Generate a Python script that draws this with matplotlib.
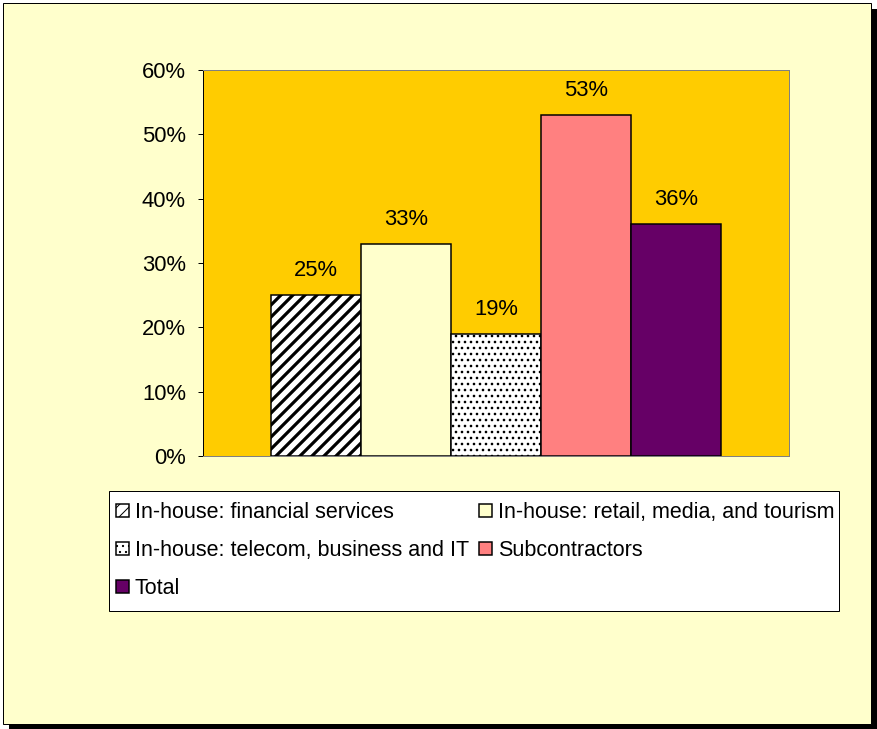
"""
Quota percentuale per gruppo (in-house per settore, subcontractors, totale).
Grafico a barre singola categoria con legenda a due colonne -> out.png
"""

import numpy as np
import matplotlib
matplotlib.use("Agg")
import matplotlib.pyplot as plt
from matplotlib.patches import Rectangle

# ─── Dati ─────────────────────────────────────────────────────────────────────
SERIES = [
    "In-house: financial services",
    "In-house: retail, media, and tourism",
    "In-house: telecom, business and IT",
    "Subcontractors",
    "Total",
]
VALUES = [25, 33, 19, 53, 36]
Y_TICKS = [0, 10, 20, 30, 40, 50, 60]

# ─── Stile ────────────────────────────────────────────────────────────────────
FACE     = ["white", "#FFFFCC", "white", "#FF8080", "#660066"]
HATCH    = ["//", None, "..", None, None]
HATCH_LW = [3.2, 1.0, 1.4, 1.0, 1.0]
FS       = 22
FS_LEG   = 21.5

W, H, DPI = 877, 729, 72
plt.rcParams["font.family"] = ["Liberation Sans", "DejaVu Sans"]


def px(x0, y0, x1, y1):
    """Box in pixel (origine in alto a sinistra) -> [l, b, w, h] in frazioni."""
    return [x0 / W, 1 - y1 / H, (x1 - x0) / W, (y1 - y0) / H]


def fig_rect(fig, box, **kw):
    l, b, w, h = box
    fig.add_artist(Rectangle((l, b), w, h, transform=fig.transFigure, **kw))


fig = plt.figure(figsize=(W / DPI, H / DPI), dpi=DPI, facecolor="white")

# cornice dell'area grafico con ombra
fig_rect(fig, px(9, 9, 877, 729), facecolor="black", edgecolor="none", zorder=-20)
fig_rect(fig, px(3, 3, 871, 724), facecolor="#FFFFCC", edgecolor="black",
         linewidth=1, zorder=-19)

ax = fig.add_axes(px(203, 70, 789, 456), facecolor="#FFCC00")

x = np.arange(len(VALUES))
handles = []
for i, (lab, v) in enumerate(zip(SERIES, VALUES)):
    plt.rcParams["hatch.linewidth"] = HATCH_LW[i]
    b = ax.bar(x[i], v, width=1.0, color=FACE[i], edgecolor="black",
               linewidth=1.5, hatch=HATCH[i], label=lab, zorder=3)
    for p in b:
        if hasattr(p, "set_hatch_linewidth"):
            p.set_hatch_linewidth(HATCH_LW[i])
    handles.append(b[0])
    ax.annotate(f"{v}%", (x[i], v), xytext=(0, 19), textcoords="offset points",
                ha="center", va="baseline", fontsize=FS)

ax.set_xlim(-1.256, len(VALUES) - 1 + 1.256)
ax.set_ylim(0, 60)
ax.set_yticks(Y_TICKS)
ax.set_yticklabels([f"{t}%" for t in Y_TICKS])
ax.set_xticks([])
ax.tick_params(axis="y", length=5, width=1, pad=12, labelsize=FS,
               direction="out", color="black")
for s in ax.spines.values():
    s.set_color("#808080")
    s.set_linewidth(1)
ax.spines["left"].set_color("black")

# ─── Legenda (riquadro disegnato a parte) ─────────────────────────────────────
fig_rect(fig, px(109, 491, 839, 611), facecolor="white", edgecolor="black",
         linewidth=1, zorder=-5)
order = [0, 2, 4, 1, 3]
fig.legend([handles[k] for k in order], [SERIES[k] for k in order],
           loc="upper left", bbox_to_anchor=(116 / W, 1 - 502 / H), ncol=2,
           frameon=False, fontsize=FS_LEG, handlelength=0.6, handleheight=0.55,
           handletextpad=0.28, columnspacing=0.45, labelspacing=0.8,
           borderpad=0, borderaxespad=0)

fig.savefig("out.png", dpi=DPI, facecolor="white")
